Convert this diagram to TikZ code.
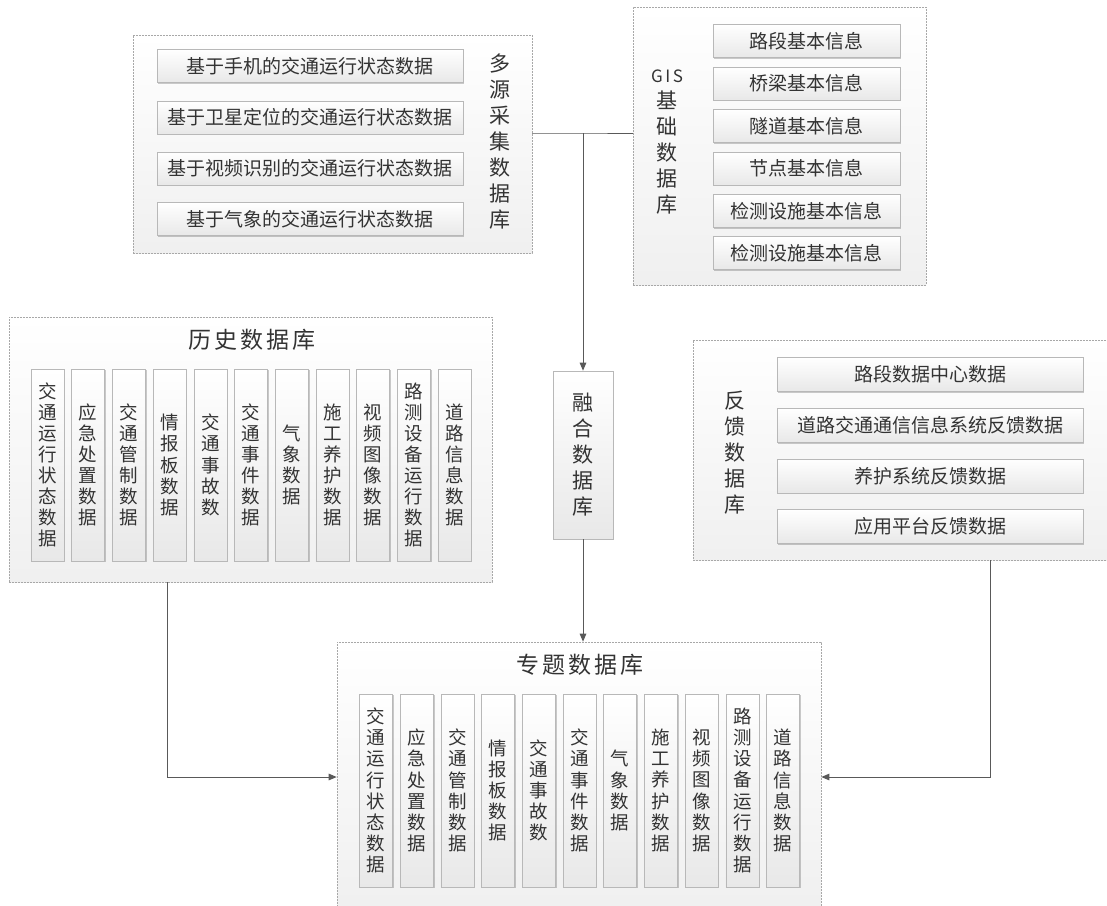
\documentclass[tikz,border=0pt]{standalone}
\usepackage{fontspec}
\setmainfont{Noto Sans CJK SC}
\usetikzlibrary{arrows.meta,shadows}
\definecolor{txt}{HTML}{333333}
\definecolor{bord}{HTML}{B8B8B8}
\definecolor{obord}{HTML}{A8A8A8}
\definecolor{conncol}{HTML}{595959}
\tikzset{
  outerbox/.style={draw=obord, dash pattern=on 2pt off 1pt, line width=0.6pt,
    top color=white, bottom color=black!6, inner sep=0pt},
  hbox/.style={draw=bord, line width=0.6pt, top color=white, bottom color=black!9,
    drop shadow={shadow xshift=1.3pt, shadow yshift=-1.3pt, fill=black, opacity=0.2},
    text=txt, font=\fontsize{19}{22}\selectfont, inner sep=0pt},
  vbox/.style={hbox, align=center, font=\fontsize{18.5}{21.1}\selectfont,
    minimum width=33pt, minimum height=192pt},
  sidelabel/.style={text=txt, align=center, font=\fontsize{21}{26}\selectfont, inner sep=0pt},
  titlelabel/.style={text=txt, font=\fontsize{23}{26}\selectfont, inner sep=0pt},
  conn/.style={draw=conncol, line width=1pt},
  arrowconn/.style={conn, -{Triangle[length=8pt,width=6.5pt]}}
}
\newcommand\collist{0/{交\\通\\运\\行\\状\\态\\数\\据},1/{应\\急\\处\\置\\数\\据},2/{交\\通\\管\\制\\数\\据},3/{情\\报\\板\\数\\据},4/{交\\通\\事\\故\\数},5/{交\\通\\事\\件\\数\\据},6/{气\\象\\数\\据},7/{施\\工\\养\\护\\数\\据},8/{视\\频\\图\\像\\数\\据},9/{路\\测\\设\\备\\运\\行\\数\\据},10/{道\\路\\信\\息\\数\\据}}
\begin{document}
\begin{tikzpicture}[x=1pt,y=-1pt]
\useasboundingbox (0,0) rectangle (1107,905);
\fill[white] (0,0) rectangle (1107,905);

% ---------- multi-source box ----------
\node[outerbox, minimum width=399pt, minimum height=218pt] (src) at (332.5,144) {};
\node[hbox, minimum width=306pt, minimum height=33pt] (s1) at (310,66) {基于手机的交通运行状态数据};
\node[hbox, minimum width=306pt, minimum height=33pt] (s2) at (310,117.5) {基于卫星定位的交通运行状态数据};
\node[hbox, minimum width=306pt, minimum height=33pt] (s3) at (310,168.5) {基于视频识别的交通运行状态数据};
\node[hbox, minimum width=306pt, minimum height=33pt] (s4) at (310,219) {基于气象的交通运行状态数据};
\node[sidelabel] (srclab) at (500,142) {多\\源\\采\\集\\数\\据\\库};

% ---------- GIS box ----------
\node[outerbox, minimum width=293pt, minimum height=278pt] (gis) at (779.5,146) {};
\node[hbox, minimum width=187pt, minimum height=33pt] (g1) at (806.5,41) {路段基本信息};
\node[hbox, minimum width=187pt, minimum height=33pt] (g2) at (806.5,83.5) {桥梁基本信息};
\node[hbox, minimum width=187pt, minimum height=33pt] (g3) at (806.5,126) {隧道基本信息};
\node[hbox, minimum width=187pt, minimum height=33pt] (g4) at (806.5,168.5) {节点基本信息};
\node[hbox, minimum width=187pt, minimum height=33pt] (g5) at (806.5,211) {检测设施基本信息};
\node[hbox, minimum width=187pt, minimum height=33pt] (g6) at (806.5,253) {检测设施基本信息};
\node[sidelabel] (gislab) at (667,142) {{\fontsize{17}{20}\selectfont G\kern2.5pt I\kern2.5pt S}\\基\\础\\数\\据\\库};

% ---------- history box ----------
\node[outerbox, minimum width=483pt, minimum height=265pt] (hist) at (250.5,449.5) {};
\node[titlelabel] (histlab) at (252,340) {历\kern3pt史\kern3pt数\kern3pt据\kern3pt库};
\foreach \i/\t in \collist {
  \node[vbox] (h\i) at ({47.5+40.7*\i},465) {\t};
}

% ---------- fusion box ----------
\node[hbox, minimum width=60pt, minimum height=168pt, align=center,
      font=\fontsize{21}{26}\selectfont] (fus) at (583,455) {融\\合\\数\\据\\库};

% ---------- feedback box ----------
\node[outerbox, minimum width=422pt, minimum height=220pt] (fb) at (904,450) {};
\node[hbox, minimum width=306pt, minimum height=34pt] (f1) at (930,374.5) {路段数据中心数据};
\node[hbox, minimum width=306pt, minimum height=34pt] (f2) at (930,425.5) {道路交通通信信息系统反馈数据};
\node[hbox, minimum width=306pt, minimum height=34pt] (f3) at (930,476) {养护系统反馈数据};
\node[hbox, minimum width=306pt, minimum height=34pt] (f4) at (930,526.5) {应用平台反馈数据};
\node[sidelabel] (fblab) at (735,453) {反\\馈\\数\\据\\库};

% ---------- special box ----------
\node[outerbox, minimum width=484pt, minimum height=266pt] (spec) at (579,775) {};
\node[titlelabel] (speclab) at (580,665) {专\kern3pt题\kern3pt数\kern3pt据\kern3pt库};
\foreach \i/\t in \collist {
  \node[vbox, minimum height=193pt] (p\i) at ({376+40.7*\i},790.5) {\t};
}

% ---------- connectors ----------
\coordinate (J) at (583,133);
\draw[conn] (src.east |- J) -- (J) -- (gis.west |- J);
\draw[arrowconn] (J) -- (fus.north);
\draw[arrowconn] (fus.south) -- (fus.south |- spec.north);
\draw[arrowconn] ([xshift=-83.5pt]hist.south) |- ([yshift=-2pt]spec.west);
\draw[arrowconn] ([xshift=86pt]fb.south) |- ([yshift=-2pt]spec.east);
\end{tikzpicture}
\end{document}
